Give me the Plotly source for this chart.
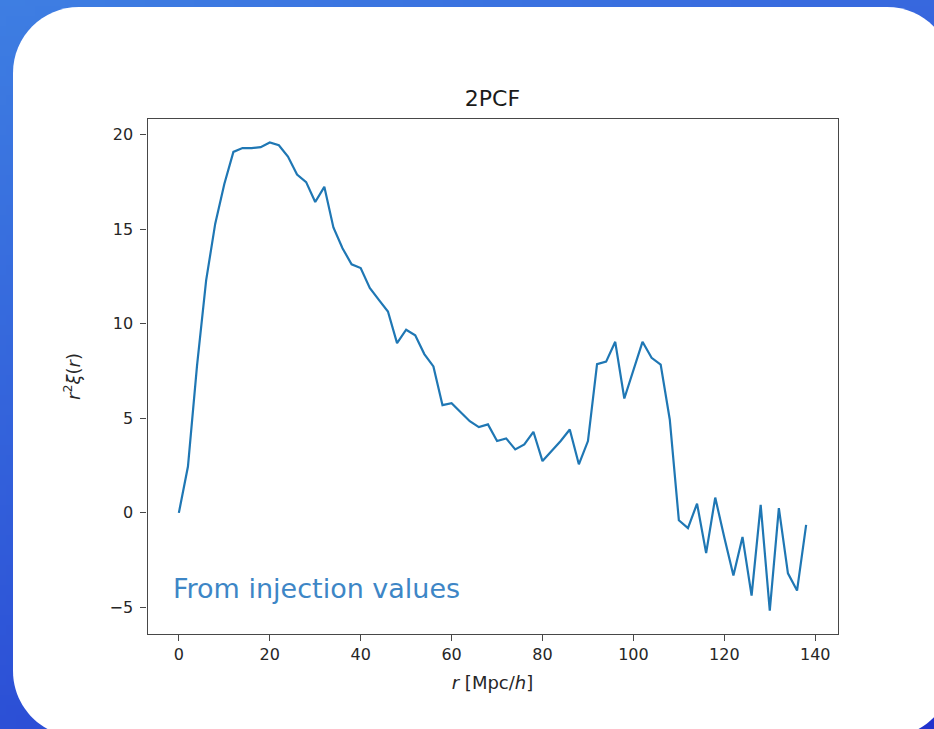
import base64, struct, zlib
import plotly.graph_objects as go

# ---------------- data ----------------
r_vals = list(range(0, 140, 2))
xi_vals = [0.0, 2.45, 7.8, 12.3, 15.3, 17.4, 19.1, 19.3, 19.3, 19.35,
           19.6, 19.45, 18.85, 17.9, 17.5, 16.45, 17.25, 15.1, 14.0, 13.15,
           12.95, 11.9, 11.27, 10.65, 8.98, 9.69, 9.39, 8.4, 7.75, 5.7,
           5.8, 5.34, 4.85, 4.54, 4.68, 3.8, 3.94, 3.36, 3.62, 4.29,
           2.74, 3.27, 3.8, 4.41, 2.57, 3.8, 7.87, 8.0, 9.05, 6.05,
           7.6, 9.05, 8.2, 7.84, 4.94, -0.39, -0.81, 0.49, -2.13, 0.81,
           -1.3, -3.32, -1.27, -4.38, 0.42, -5.17, 0.25, -3.2, -4.11, -0.63]
x_ticks = [0, 20, 40, 60, 80, 100, 120, 140]
y_ticks = [-5, 0, 5, 10, 15, 20]

W, H = 934, 729

# ---------------- gradient background (PNG data URI) ----------------
def gradient_png(w, h, tl, tr, bl, br):
    raw = bytearray()
    for j in range(h):
        v = j / (h - 1)
        raw.append(0)
        for i in range(w):
            u = i / (w - 1)
            for c in range(3):
                top = tl[c] * (1 - u) + tr[c] * u
                bot = bl[c] * (1 - u) + br[c] * u
                raw.append(int(round(top * (1 - v) + bot * v)))
    def chunk(t, d):
        return struct.pack(">I", len(d)) + t + d + struct.pack(">I", zlib.crc32(t + d) & 0xffffffff)
    png = b"\x89PNG\r\n\x1a\n" + chunk(b"IHDR", struct.pack(">IIBBBBB", w, h, 8, 2, 0, 0, 0)) \
        + chunk(b"IDAT", zlib.compress(bytes(raw), 9)) + chunk(b"IEND", b"")
    return "data:image/png;base64," + base64.b64encode(png).decode()

bg_uri = gradient_png(94, 73, (62, 126, 226), (55, 104, 222), (44, 80, 214), (34, 50, 205))

# ---------------- rounded white card ----------------
def px(x, y):
    return f"{x / W:.5f},{1 - y / H:.5f}"

L, T, R, B, rad = 13, 7, 953, 737, 66
k = 0.5523 * rad
card = (f"M {px(L + rad, T)} L {px(R - rad, T)} "
        f"C {px(R - rad + k, T)} {px(R, T + rad - k)} {px(R, T + rad)} "
        f"L {px(R, B - rad)} "
        f"C {px(R, B - rad + k)} {px(R - rad + k, B)} {px(R - rad, B)} "
        f"L {px(L + rad, B)} "
        f"C {px(L + rad - k, B)} {px(L, B - rad + k)} {px(L, B - rad)} "
        f"L {px(L, T + rad)} "
        f"C {px(L, T + rad - k)} {px(L + rad - k, T)} {px(L + rad, T)} Z")

# ---------------- axes geometry ----------------
ax_l, ax_r, ax_t, ax_b = 147.5, 837.5, 119, 634
xmin, xmax = min(r_vals), max(r_vals)
ymin, ymax = min(xi_vals), max(xi_vals)
xpad = 0.05 * (xmax - xmin)
ypad = 0.05 * (ymax - ymin)

fig = go.Figure()
fig.add_trace(go.Scatter(x=r_vals, y=xi_vals, mode="lines",
                         line=dict(color="#1f77b4", width=2.2),
                         showlegend=False, hoverinfo="x+y"))

tick_font = dict(family="DejaVu Sans", size=16, color="#262626")
axis_common = dict(showline=True, mirror=True, linecolor="#474747", linewidth=1.4,
                   showgrid=False, zeroline=False, ticks="outside", ticklen=6,
                   tickwidth=1.2, tickcolor="#474747", tickfont=tick_font)

fig.update_layout(
    width=W, height=H,
    margin=dict(l=0, r=0, t=0, b=0),
    paper_bgcolor="#3460dc",
    plot_bgcolor="rgba(0,0,0,0)",
    images=[dict(source=bg_uri, xref="paper", yref="paper", x=0, y=1,
                 sizex=1, sizey=1, xanchor="left", yanchor="top",
                 sizing="stretch", layer="below")],
    shapes=[dict(type="path", path=card, xref="paper", yref="paper",
                 fillcolor="white", line=dict(width=0), layer="below")],
    title=dict(text="2PCF", x=(ax_l + ax_r) / 2 / W, xanchor="center",
               y=1 - 98 / H, yanchor="middle",
               font=dict(family="DejaVu Sans", size=22, color="#1a1a1a")),
    xaxis=dict(domain=[ax_l / W, ax_r / W], range=[xmin - xpad, xmax + xpad],
               tickvals=x_ticks,
               title=dict(text="<i>r</i> [Mpc/<i>h</i>]", standoff=12,
                          font=dict(family="DejaVu Sans", size=18, color="#262626")),
               **axis_common),
    yaxis=dict(domain=[1 - ax_b / H, 1 - ax_t / H], range=[ymin - ypad, ymax + ypad],
               tickvals=y_ticks, ticklabelstandoff=4,
               title=dict(text="<i>r</i><sup>2</sup><i>ξ</i>(<i>r</i>)", standoff=24,
                          font=dict(family="DejaVu Sans", size=18, color="#262626")),
               **axis_common),
    annotations=[dict(text="From injection values", xref="paper", yref="paper",
                      x=171 / W, y=1 - 588 / H, xanchor="left", yanchor="middle",
                      showarrow=False,
                      font=dict(family="DejaVu Sans", size=27, color="#3d86c6"))],
)

fig.write_html("out.html")
